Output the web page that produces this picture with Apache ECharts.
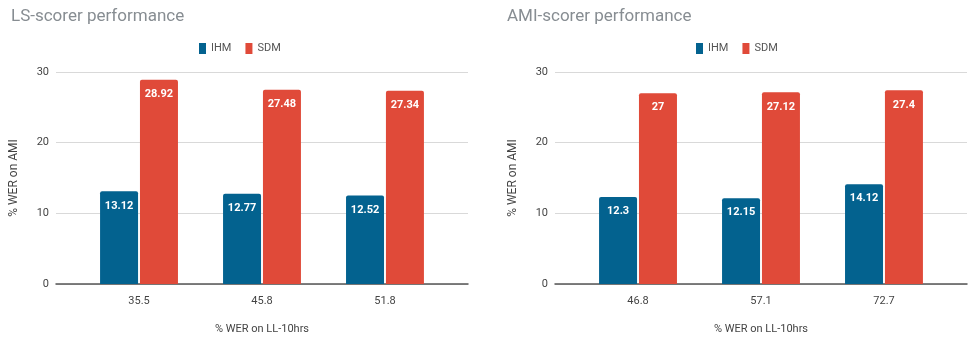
<!DOCTYPE html>
<html>
<head>
<meta charset="utf-8">
<script src="https://cdn.jsdelivr.net/npm/echarts@6/dist/echarts.min.js"></script>
<style>
html,body{margin:0;padding:0;background:#fff;}
#chart{width:969px;height:340px;}
</style>
</head>
<body>
<div id="chart"></div>
<script>
var seriesNames = ['IHM', 'SDM'];
var lsCategories = ['35.5', '45.8', '51.8'];
var lsIHM = [13.12, 12.77, 12.52];
var lsSDM = [28.92, 27.48, 27.34];
var amiCategories = ['46.8', '57.1', '72.7'];
var amiIHM = [12.3, 12.15, 14.12];
var amiSDM = [27, 27.12, 27.4];

var BLUE = '#03628f';
var RED = '#e04a39';
var FONT = 'Roboto';

// category positions 0,1,2 on a value axis, with extra padding each side
function xAxisFor(gi, cats) {
    return {
        type: 'value', gridIndex: gi, min: -0.675, max: 2.675,
        name: '% WER on LL-10hrs', nameLocation: 'middle', nameGap: 40,
        nameTextStyle: { color: '#444', fontSize: 11, fontFamily: FONT },
        splitLine: { show: false },
        axisTick: { show: false },
        axisLine: { show: true, lineStyle: { color: '#555', width: 1.5 } },
        axisLabel: {
            customValues: [0, 1, 2], color: '#444', fontSize: 11, fontFamily: FONT, margin: 12,
            formatter: function (v) { return cats[Math.round(v)]; }
        }
    };
}
function yAxisFor(gi) {
    return {
        type: 'value', gridIndex: gi, min: 0, max: 30, interval: 10,
        name: '% WER on AMI', nameLocation: 'middle', nameGap: 36,
        nameTextStyle: { color: '#444', fontSize: 12, fontFamily: FONT },
        axisLine: { show: false }, axisTick: { show: false },
        axisLabel: { color: '#444', fontSize: 11, fontFamily: FONT, margin: 7 },
        splitLine: { lineStyle: { color: '#d9d9d9' } }
    };
}
function barSeries(name, vals, gi, color) {
    return {
        name: name, type: 'bar', xAxisIndex: gi, yAxisIndex: gi,
        data: vals.map(function (v, i) { return [i, v]; }),
        barWidth: 38, barGap: '5%',
        itemStyle: { color: color, borderRadius: [2, 2, 0, 0] },
        label: {
            show: true, position: 'insideTop', distance: 9,
            color: '#fff', fontWeight: 'bold', fontSize: 11, fontFamily: FONT,
            formatter: function (p) { return p.value[1]; }
        }
    };
}

var chart = echarts.init(document.getElementById('chart'));
var option = {
    animation: false,
    title: [
        { text: 'LS-scorer performance', left: 6, top: 3,
          textStyle: { color: '#878d92', fontSize: 17, fontWeight: 'normal', fontFamily: FONT } },
        { text: 'AMI-scorer performance', left: 502, top: 3,
          textStyle: { color: '#878d92', fontSize: 17, fontWeight: 'normal', fontFamily: FONT } }
    ],
    legend: [
        { data: seriesNames.map(function (n, i) { return { name: n, itemStyle: { color: i ? RED : BLUE } }; }),
          left: 194, top: 38, icon: 'rect', itemWidth: 7, itemHeight: 11, itemGap: 14, itemTextGap: 5,
          textStyle: { color: '#555', fontSize: 11, fontFamily: FONT } },
        { data: seriesNames.map(function (n) { return { name: n + ' ' }; }),
          left: 691, top: 38, icon: 'rect', itemWidth: 7, itemHeight: 11, itemGap: 14, itemTextGap: 5,
          textStyle: { color: '#555', fontSize: 11, fontFamily: FONT },
          formatter: function (n) { return n.trim(); } }
    ],
    grid: [
        { left: 56, width: 412, top: 72, height: 216 },
        { left: 555, width: 412, top: 72, height: 216 }
    ],
    xAxis: [xAxisFor(0, lsCategories), xAxisFor(1, amiCategories)],
    yAxis: [yAxisFor(0), yAxisFor(1)],
    series: [
        barSeries('IHM', lsIHM, 0, BLUE),
        barSeries('SDM', lsSDM, 0, RED),
        barSeries('IHM ', amiIHM, 1, BLUE),
        barSeries('SDM ', amiSDM, 1, RED)
    ]
};
chart.setOption(option);
</script>
</body>
</html>
